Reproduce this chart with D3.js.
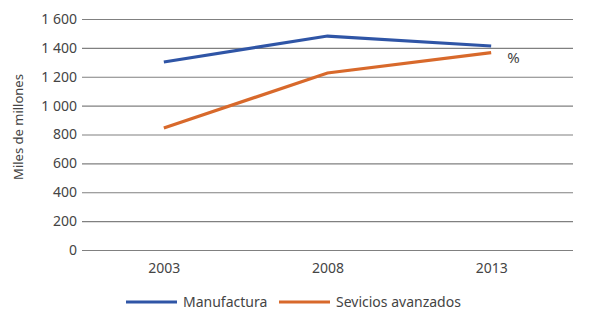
<!DOCTYPE html>
<html>
<head>
<meta charset="utf-8">
<script src="https://cdn.jsdelivr.net/npm/d3@7"></script>
<style>
  body { margin: 0; background: #fff; }
  text { font-family: "Noto Sans", sans-serif; fill: #444; }
</style>
</head>
<body>
<div id="chart"></div>
<script>
const years = ["2003", "2008", "2013"];
const manufactura = [1302, 1482, 1413];
const servicios = [845, 1226, 1367];
const yTicks = [0, 200, 400, 600, 800, 1000, 1200, 1400, 1600];
const seriesNames = ["Manufactura", "Sevicios avanzados"];
const seriesColors = ["#2f55a6", "#d8692b"];

const width = 589, height = 322;
const m = { top: 19, left: 82, right: 16, bottom: 72 };
const w = width - m.left - m.right;
const h = height - m.top - m.bottom;

const svg = d3.select("#chart").append("svg")
  .attr("width", width)
  .attr("height", height);

const g = svg.append("g").attr("transform", `translate(${m.left},${m.top})`);

const x = d3.scalePoint().domain(years).range([0, w]).padding(0.5);
const y = d3.scaleLinear().domain([0, 1600]).range([h, 0]);

// grid + y axis
const yAxis = d3.axisLeft(y).tickValues(yTicks).tickSize(-w)
  .tickFormat(d => d >= 1000 ? d3.format(",")(d).replace(",", " ") : d);
g.append("g").call(yAxis)
  .call(s => s.select(".domain").remove())
  .call(s => s.selectAll("line").attr("stroke", "#808080").attr("stroke-width", 1.1))
  .call(s => s.selectAll("text").attr("x", -5).attr("font-size", 14).attr("fill", "#444"));

// x axis labels
const xAxis = d3.axisBottom(x).tickSize(0);
g.append("g").attr("transform", `translate(0,${h})`).call(xAxis)
  .call(s => s.select(".domain").remove())
  .call(s => s.selectAll("text").attr("dy", "1.45em").attr("font-size", 14).attr("fill", "#444"));

// y label
svg.append("text")
  .attr("transform", "rotate(-90)")
  .attr("x", -127)
  .attr("y", 23)
  .attr("text-anchor", "middle")
  .attr("font-size", 13)
  .text("Miles de millones");

const line = d3.line().x((d, i) => x(years[i])).y(d => y(d));

[manufactura, servicios].forEach((s, i) => {
  g.append("path")
    .datum(s)
    .attr("fill", "none")
    .attr("stroke", seriesColors[i])
    .attr("stroke-width", 3.2)
    .attr("d", line);
});

g.append("text")
  .attr("x", x("2013") + 16)
  .attr("y", y(1367) + 10)
  .attr("font-size", 15)
  .text("%");

// legend
const legend = svg.append("g").attr("transform", "translate(126,302)");
const lx = [0, 153];
seriesNames.forEach((n, i) => {
  legend.append("line")
    .attr("x1", lx[i]).attr("x2", lx[i] + 51)
    .attr("y1", 0).attr("y2", 0)
    .attr("stroke", seriesColors[i])
    .attr("stroke-width", 3);
  legend.append("text")
    .attr("x", lx[i] + 57)
    .attr("y", 5)
    .attr("font-size", 14)
    .text(n);
});
</script>
</body>
</html>
